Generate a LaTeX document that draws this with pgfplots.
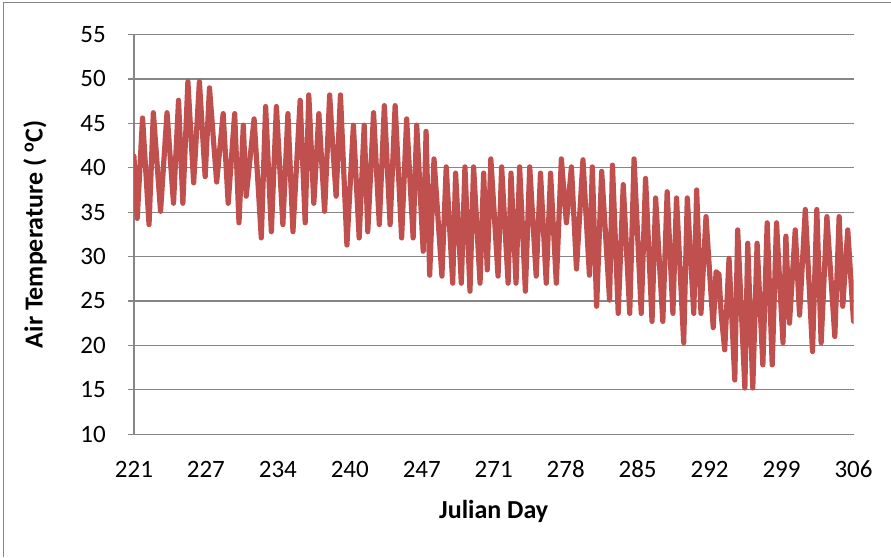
\documentclass[border=0pt]{standalone}
\usepackage{pgfplots}
\pgfplotsset{compat=1.18}
\usepackage{fontspec}
\setmainfont{Carlito}
\definecolor{linered}{RGB}{192,80,77}
\definecolor{gridgray}{RGB}{134,134,134}
\begin{document}
\begin{tikzpicture}
\begin{axis}[
  at={(0,0)}, anchor=south west,
  scale only axis, width=720pt, height=399.8pt,
  xmin=0, xmax=10, ymin=10, ymax=55,
  xtick={0,...,10},
  xticklabels={221,227,234,240,247,271,278,285,292,299,306},
  ytick={10,15,...,55},
  axis x line*=bottom, axis y line*=left,
  ymajorgrids, major grid style={gridgray, line width=1.3pt},
  axis line style={gridgray, line width=1.3pt, -},
  x tick style={draw=none}, y tick style={gridgray, line width=1.3pt},
  major tick length=6pt, tick align=outside,
  /pgf/number format/assume math mode=true,
  tick label style={font=\fontsize{25}{30}\selectfont, text=black},
  xticklabel style={anchor=base, inner sep=0pt, yshift=-37.5pt},
  yticklabel style={anchor=east, inner sep=0pt, xshift=-22pt},
  xlabel={Julian Day}, ylabel={Air Temperature ( \textsuperscript{o}C)},
  every axis x label/.style={at={(axis description cs:0.5,0)}, anchor=center, yshift=-77pt, font=\bfseries\fontsize{26}{31}\selectfont},
  every axis y label/.style={at={(axis description cs:0,0.5)}, xshift=-99pt, anchor=center, rotate=90, font=\bfseries\fontsize{26}{31}\selectfont},
]
\addplot[linered, line width=5.2pt, line join=round, line cap=round] coordinates {
(0,41.3) (0.046,34.3) (0.12,45.6) (0.21,33.6) (0.27,46.2) (0.37,35.1) (0.46,46.2) (0.55,36.0)
(0.62,47.6) (0.68,36.0) (0.75,49.7) (0.83,38.3) (0.91,49.7) (0.99,39.0) (1.05,49.0) (1.15,38.4)
(1.24,46.1) (1.31,36.0) (1.40,46.1) (1.46,33.8) (1.52,44.8) (1.56,36.8) (1.67,45.5) (1.77,32.1)
(1.83,46.9) (1.91,32.8) (1.98,46.9) (2.07,33.6) (2.14,46.1) (2.21,32.8) (2.31,47.6) (2.38,33.8)
(2.43,48.2) (2.50,36.0) (2.57,46.1) (2.65,35.1) (2.72,48.2) (2.76,42.8) (2.81,36.8) (2.87,48.2)
(2.96,31.3) (3.05,44.8) (3.13,32.1) (3.20,44.8) (3.25,32.8) (3.33,46.2) (3.41,33.6) (3.48,47.0)
(3.56,33.6) (3.63,47.0) (3.72,32.1) (3.79,45.5) (3.88,32.1) (3.93,44.8) (4.02,30.6) (4.06,44.1)
(4.11,27.9) (4.17,41.0) (4.28,27.8) (4.34,40.1) (4.43,27.0) (4.47,39.4) (4.55,27.0) (4.60,40.1)
(4.67,26.1) (4.72,40.1) (4.81,27.0) (4.86,39.4) (4.91,28.5) (4.96,41.0) (5.06,27.8) (5.11,40.1)
(5.20,27.0) (5.24,39.4) (5.31,27.0) (5.36,40.1) (5.44,26.1) (5.50,40.1) (5.59,27.8) (5.65,39.4)
(5.73,27.0) (5.79,39.4) (5.87,27.0) (5.94,41.0) (6.01,33.8) (6.08,40.1) (6.15,28.6) (6.24,40.9)
(6.33,27.9) (6.37,40.1) (6.43,24.4) (6.50,39.6) (6.61,25.1) (6.65,40.3) (6.73,23.6) (6.80,38.1)
(6.89,23.6) (6.95,41.0) (7.05,23.6) (7.11,38.8) (7.20,22.7) (7.25,36.6) (7.35,22.7) (7.41,37.3)
(7.49,23.6) (7.54,36.6) (7.64,20.3) (7.69,36.6) (7.78,23.6) (7.82,37.5) (7.88,23.6) (7.95,34.5)
(8.05,22.0) (8.09,28.3) (8.13,28.0) (8.16,23.6) (8.21,19.5) (8.27,29.8) (8.35,16.1) (8.39,33.0)
(8.49,15.2) (8.53,31.5) (8.60,15.2) (8.66,31.5) (8.74,17.8) (8.80,33.8) (8.87,17.8) (8.93,33.8)
(9.02,20.3) (9.06,32.3) (9.11,22.5) (9.19,33.0) (9.25,23.4) (9.33,35.3) (9.43,19.3) (9.49,35.3)
(9.55,20.3) (9.63,34.5) (9.74,21.0) (9.80,34.5) (9.85,24.4) (9.92,33.0) (10,22.7)
};
\end{axis}
\pgfresetboundingbox
\path (-134pt,-122.6pt) rectangle (757pt,434.4pt);
\draw[gridgray, line width=1pt] (-130.5pt,-122.6pt) -- (-130.5pt,431.9pt) -- (757pt,431.9pt);
\end{tikzpicture}
\end{document}
